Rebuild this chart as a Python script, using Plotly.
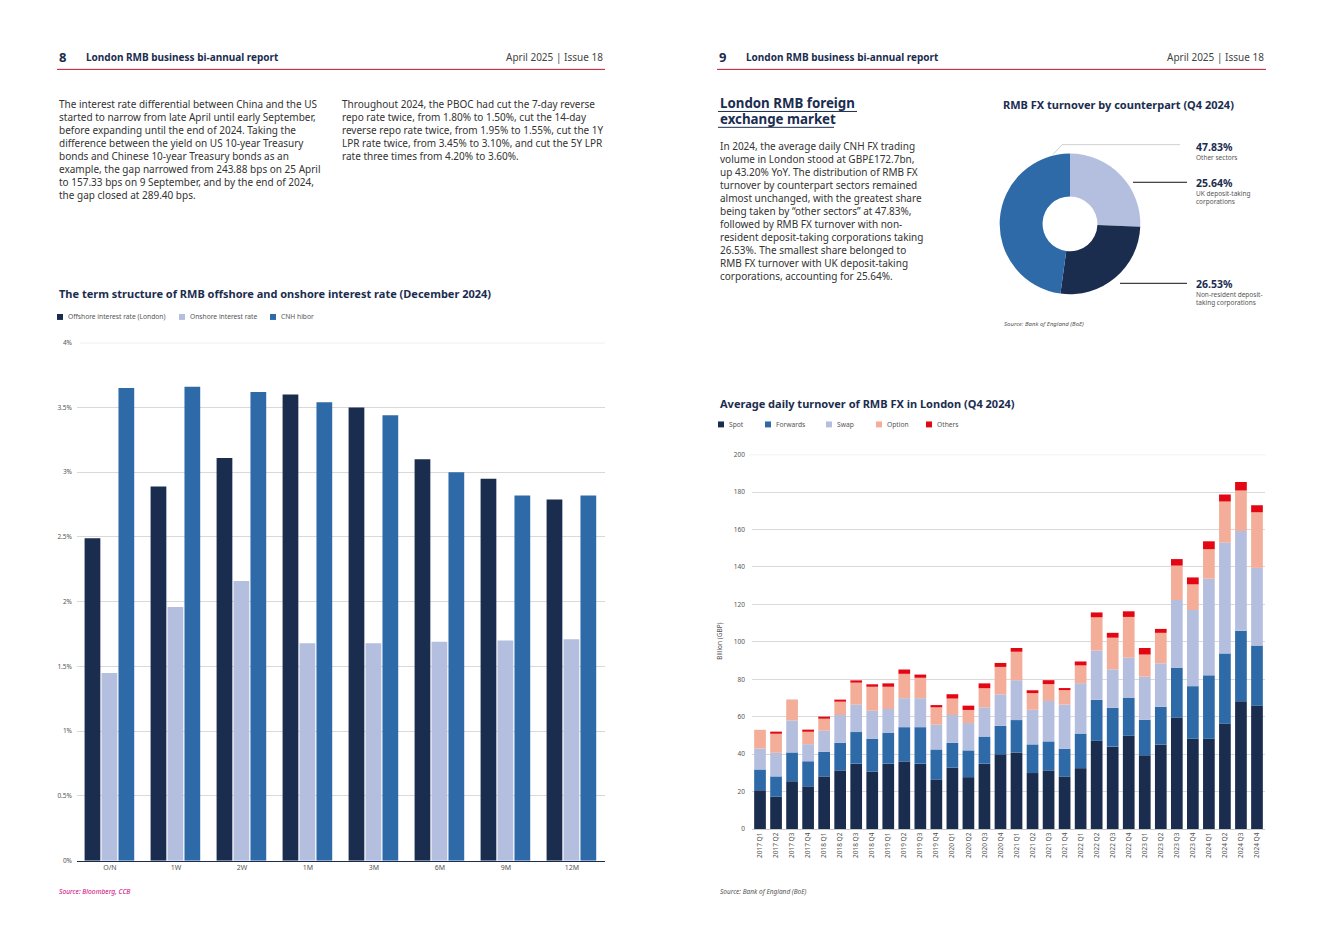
import plotly.graph_objects as go

W, H = 1323, 936
def px(x): return x / W
def py(y): return 1 - y / H

NAVY = "#1b2d4f"
BLUE = "#2e6aa8"
LAV = "#b4bfe0"
PEACH = "#f4ad98"
RED = "#e30613"
TXT = "#333333"
GRID = "#d9d9d9"
FONT = "Noto Sans"

# ---- Left chart data: term structure (%)
tenors = ["O/N", "1W", "2W", "1M", "3M", "6M", "9M", "12M"]
offshore = [2.49, 2.89, 3.11, 3.60, 3.50, 3.10, 2.95, 2.79]
onshore = [1.45, 1.96, 2.16, 1.68, 1.68, 1.69, 1.70, 1.71]
cnh_hibor = [3.65, 3.66, 3.62, 3.54, 3.44, 3.00, 2.82, 2.82]

# ---- Right chart data: average daily turnover (GBP bn)
quarters = [f"{y} Q{q}" for y in range(2017, 2025) for q in range(1, 5)]
spot = [20.7, 17.2, 25.5, 22.8, 28.1, 31.3, 34.9, 30.7, 34.9, 36.0, 34.9, 26.5,
        32.8, 27.7, 34.9, 39.9, 40.9, 29.9, 31.3, 28.1, 32.5, 47.1, 44.0, 49.8,
        39.4, 45.2, 59.5, 48.2, 48.2, 56.3, 68.2, 65.8]
forwards = [11.1, 10.9, 15.4, 13.4, 13.2, 14.7, 16.9, 17.4, 16.4, 18.4, 19.5, 16.0,
            13.2, 14.3, 14.5, 15.2, 17.3, 15.3, 15.5, 14.8, 18.5, 21.9, 20.7, 20.2,
            19.0, 20.1, 26.7, 28.1, 33.9, 37.5, 37.7, 32.2]
swap = [11.2, 12.6, 17.1, 9.1, 11.2, 14.9, 14.6, 15.1, 12.8, 15.5, 15.5, 13.2,
        14.9, 14.6, 15.6, 16.8, 21.3, 18.5, 21.6, 23.6, 26.9, 26.3, 20.6, 21.5,
        23.0, 23.2, 36.1, 40.7, 51.6, 59.2, 53.3, 41.5]
option = [10.0, 10.6, 11.2, 7.2, 6.7, 7.2, 11.8, 12.8, 11.9, 13.0, 10.9, 9.3,
          8.8, 7.0, 10.2, 14.7, 15.2, 8.9, 9.0, 7.7, 9.5, 17.8, 16.9, 21.8,
          11.8, 16.3, 18.4, 13.7, 15.8, 22.0, 21.6, 29.7]
others = [0.0, 0.5, 0.0, 0.5, 0.7, 0.6, 1.2, 1.3, 1.8, 2.3, 1.7, 1.2,
          2.3, 2.3, 2.6, 2.1, 2.0, 1.5, 2.1, 1.1, 2.1, 2.6, 2.6, 3.0,
          3.5, 2.1, 3.5, 3.7, 4.2, 3.7, 4.6, 3.7]

# ---- Donut data
sectors = ["UK deposit-taking corporations", "Non-resident deposit-taking corporations", "Other sectors"]
shares = [25.64, 26.53, 47.83]
share_colors = [LAV, NAVY, BLUE]

LEFT_MAX = 4
RIGHT_MAX = 200

fig = go.Figure()

# Left grouped bars (explicit offsets so the right chart can stack via base)
group_w = 0.77
bw = group_w / 3
for i, (name, vals, col) in enumerate([("Offshore interest rate (London)", offshore, NAVY),
                                       ("Onshore interest rate", onshore, LAV),
                                       ("CNH hibor", cnh_hibor, BLUE)]):
    fig.add_trace(go.Bar(x=tenors, y=vals, name=name, marker_color=col, marker_line_width=0,
                         width=bw * 0.93, offset=-group_w / 2 + i * bw,
                         xaxis="x", yaxis="y", showlegend=False))

# Right stacked bars
base = [0.0] * len(quarters)
for name, vals, col in [("Spot", spot, NAVY), ("Forwards", forwards, BLUE),
                        ("Swap", swap, LAV), ("Option", option, PEACH), ("Others", others, RED)]:
    fig.add_trace(go.Bar(x=quarters, y=vals, base=list(base), name=name, marker_color=col,
                         marker_line_width=0, width=0.73,
                         xaxis="x2", yaxis="y2", showlegend=False))
    base = [b + v for b, v in zip(base, vals)]

# Donut
fig.add_trace(go.Pie(labels=sectors, values=shares, hole=0.39, sort=False,
                     direction="clockwise", rotation=0, textinfo="none",
                     marker=dict(colors=share_colors), showlegend=False,
                     domain=dict(x=[px(999), px(1141)], y=[py(292), py(150)])))

tickfont = dict(family=FONT, size=6.5, color="#555555")

fig.update_layout(
    width=W, height=H, margin=dict(l=0, r=0, t=0, b=0),
    paper_bgcolor="white", plot_bgcolor="white",
    barmode="overlay",
    xaxis=dict(domain=[px(77), px(605)], anchor="y", tickfont=dict(family=FONT, size=7, color="#555555"),
               showline=True, linecolor=NAVY, linewidth=1, ticks="", showgrid=False),
    yaxis=dict(domain=[py(864), py(341)], anchor="x", range=[0, LEFT_MAX], dtick=0.5, ticksuffix="%",
               tickfont=tickfont, gridcolor=GRID, gridwidth=1, zeroline=False, ticklabelstandoff=4),
    xaxis2=dict(domain=[px(752), px(1265)], anchor="y2", tickfont=tickfont, tickangle=-90,
                showline=True, linecolor="#c8c8c8", ticks="", showgrid=False),
    yaxis2=dict(domain=[py(832), py(454)], anchor="x2", range=[0, RIGHT_MAX], dtick=20,
                tickfont=tickfont, gridcolor=GRID, gridwidth=1, zeroline=False, ticklabelstandoff=6),
)

shapes = []
annots = []

# top gridlines (at the axis range edge) drawn through the axis scale
shapes.append(dict(type="line", xref="paper", yref="y", x0=px(80), x1=px(605), y0=LEFT_MAX, y1=LEFT_MAX,
                   line=dict(color=GRID, width=1), layer="below"))
shapes.append(dict(type="line", xref="paper", yref="y2", x0=px(749), x1=px(1266), y0=RIGHT_MAX, y1=RIGHT_MAX,
                   line=dict(color=GRID, width=1), layer="below"))

def text(x, y, s, size=10, bold=False, italic=False, color=TXT, xanchor="left", yanchor="middle", align="left"):
    if bold:
        s = f"<b>{s}</b>"
    if italic:
        s = f"<i>{s}</i>"
    annots.append(dict(x=px(x), y=py(y), xref="paper", yref="paper", text=s, showarrow=False,
                       xanchor=xanchor, yanchor=yanchor, align=align,
                       font=dict(family=FONT, size=size, color=color)))

def line(x0, y0, x1, y1, color, w=1):
    shapes.append(dict(type="line", xref="paper", yref="paper", x0=px(x0), y0=py(y0), x1=px(x1), y1=py(y1),
                       line=dict(color=color, width=w)))

def square(x, y, color, s=6):
    shapes.append(dict(type="rect", xref="paper", yref="paper", x0=px(x), x1=px(x + s),
                       y0=py(y + s / 2), y1=py(y - s / 2), line=dict(width=0), fillcolor=color))

# Headers
for num, x0, x1 in [("8", 57, 605), ("9", 717, 1266)]:
    text(x0, 52, num, size=13, bold=True, color=NAVY)
    text(x0 + 27, 52, "London RMB business bi-annual report", size=10, bold=True, color=NAVY)
    text(x1, 52, "April 2025 | Issue 18", size=10, color="#444444", xanchor="right")
    line(x0, 65, x1, 65, "#c8102e", 1)

# Left page text
col1 = ("The interest rate differential between China and the US<br>"
        "started to narrow from late April until early September,<br>"
        "before expanding until the end of 2024. Taking the<br>"
        "difference between the yield on US 10-year Treasury<br>"
        "bonds and Chinese 10-year Treasury bonds as an<br>"
        "example, the gap narrowed from 243.88 bps on 25 April<br>"
        "to 157.33 bps on 9 September, and by the end of 2024,<br>"
        "the gap closed at 289.40 bps.")
col2 = ("Throughout 2024, the PBOC had cut the 7-day reverse<br>"
        "repo rate twice, from 1.80% to 1.50%, cut the 14-day<br>"
        "reverse repo rate twice, from 1.95% to 1.55%, cut the 1Y<br>"
        "LPR rate twice, from 3.45% to 3.10%, and cut the 5Y LPR<br>"
        "rate three times from 4.20% to 3.60%.")
text(57, 91, col1, size=10, yanchor="top")
text(340, 91, col2, size=10, yanchor="top")

# Left chart title & legend
text(57, 291, "The term structure of RMB offshore and onshore interest rate (December 2024)", size=11, bold=True, color=NAVY)
for x, col, lab in [(57, NAVY, "Offshore interest rate (London)"), (179, LAV, "Onshore interest rate"), (270, BLUE, "CNH hibor")]:
    square(x, 315, col)
    text(x + 9, 315, lab, size=6.7, color="#555555")
text(57, 895, "Source: Bloomberg, CCB", size=6.7, italic=True, color="#d1007a")

# Right page text
text(718, 99, "London RMB foreign", size=13.3, bold=True, color=NAVY)
text(718, 115, "exchange market", size=13.3, bold=True, color=NAVY)
line(718, 107.5, 857, 107.5, NAVY, 1)
line(718, 123.5, 834, 123.5, NAVY, 1)
col3 = ("In 2024, the average daily CNH FX trading<br>"
        "volume in London stood at GBP£172.7bn,<br>"
        "up 43.20% YoY. The distribution of RMB FX<br>"
        "turnover by counterpart sectors remained<br>"
        "almost unchanged, with the greatest share<br>"
        "being taken by “other sectors” at 47.83%,<br>"
        "followed by RMB FX turnover with non-<br>"
        "resident deposit-taking corporations taking<br>"
        "26.53%. The smallest share belonged to<br>"
        "RMB FX turnover with UK deposit-taking<br>"
        "corporations, accounting for 25.64%.")
text(718, 133, col3, size=10, yanchor="top")

# Donut title, labels, lines
text(1118, 100, "RMB FX turnover by counterpart (Q4 2024)", size=11, bold=True, color=NAVY, xanchor="center")
shapes.append(dict(type="path", xref="paper", yref="paper",
                   path=f"M {px(1053)} {py(151)} L {px(1062)} {py(141)} L {px(1180)} {py(141)}",
                   line=dict(color="#d0d0d0", width=1)))
line(1133, 179, 1187, 179, "#111111", 1)
line(1120, 281, 1187, 281, "#111111", 1)
text(1194, 143, "47.83%", size=10.5, bold=True, color=NAVY)
text(1194, 154, "Other sectors", size=6.5, color="#555555")
text(1194, 180, "25.64%", size=10.5, bold=True, color=NAVY)
text(1194, 190.5, "UK deposit-taking", size=6.5, color="#555555")
text(1194, 198.5, "corporations", size=6.5, color="#555555")
text(1194, 282, "26.53%", size=10.5, bold=True, color=NAVY)
text(1194, 292, "Non-resident deposit-", size=6.5, color="#555555")
text(1194, 300, "taking corporations", size=6.5, color="#555555")
text(1002, 322, "Source: Bank of England (BoE)", size=6, italic=True, color="#555555")

# Right chart title & legend
text(718, 402, "Average daily turnover of RMB FX in London (Q4 2024)", size=11, bold=True, color=NAVY)
for x, col, lab in [(718, NAVY, "Spot"), (765, BLUE, "Forwards"), (826, LAV, "Swap"), (876, PEACH, "Option"), (926, RED, "Others")]:
    square(x, 423.5, col)
    text(x + 9, 423.5, lab, size=6.7, color="#555555")
annots.append(dict(x=px(720), y=py(643), xref="paper", yref="paper", text="Billion (GBP)", showarrow=False,
                   textangle=-90, xanchor="center", yanchor="middle",
                   font=dict(family=FONT, size=6.5, color="#555555")))
text(718, 895, "Source: Bank of England (BoE)", size=6.5, italic=True, color="#555555")

fig.update_layout(shapes=shapes, annotations=annots)
post = ("document.documentElement.style.margin='0px';document.body.style.margin='0px';"
        "document.body.style.overflow='hidden';"
        "var gd=document.getElementsByClassName('plotly-graph-div')[0];"
        "gd.style.position='fixed';gd.style.top='0px';gd.style.left='0px';")
fig.write_html("out.html", config={"displayModeBar": False}, post_script=post)
